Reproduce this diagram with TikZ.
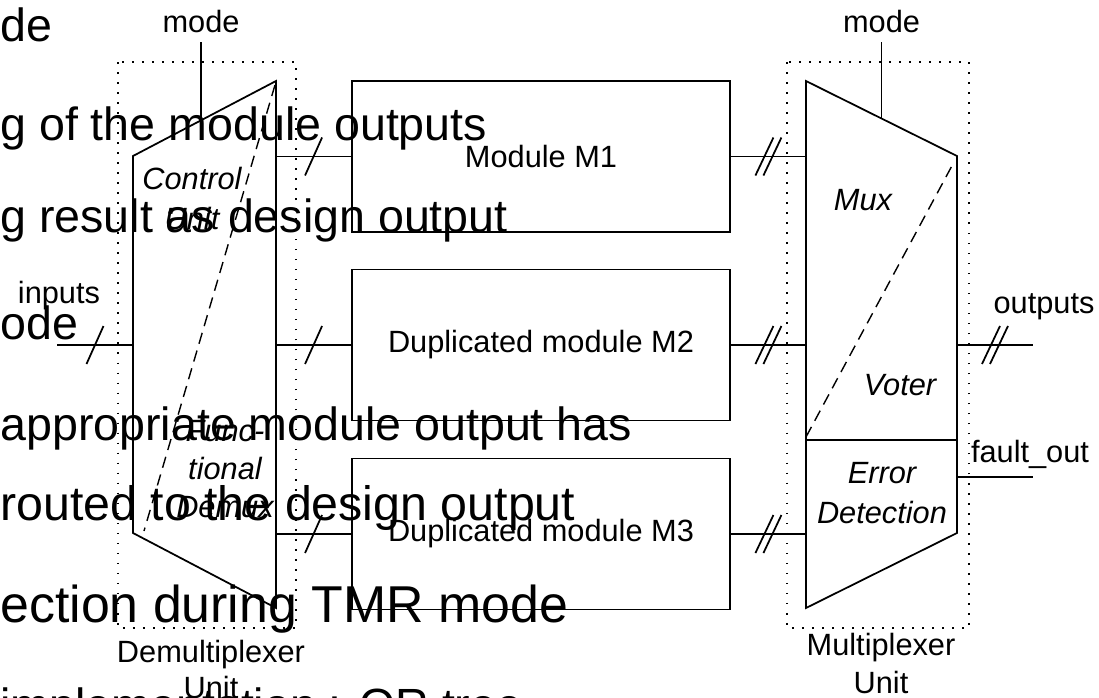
\documentclass[tikz,border=0pt]{standalone}
\usepackage{fontspec}
\setmainfont{Liberation Sans}
\usetikzlibrary{positioning,calc}
\newcommand{\lblfont}{\fontsize{17.5}{20}\selectfont}
\newcommand{\busmark}[1]{\draw[wire] ([shift={(-8.5,19)}]#1) -- ([shift={(8.5,-19)}]#1);}
\newcommand{\busmarks}[1]{\draw[wire] ([shift={(-13,19)}]#1) -- ([shift={(5,-19)}]#1)
    ([shift={(-5,19)}]#1) -- ([shift={(13,-19)}]#1);}

\begin{document}
\begin{tikzpicture}[x=0.2mm, y=-0.2mm,
    wire/.style={line width=1pt},
    unitbox/.style={line width=0.9pt, dash pattern=on 0.9pt off 4.8pt},
    ctrlline/.style={line width=0.8pt, dash pattern=on 6.5pt off 4pt},
    modbox/.style={draw, line width=1pt, minimum width=75.6mm, minimum height=30.2mm, font=\lblfont},
    sig/.style={font=\lblfont, inner sep=0pt, anchor=base, align=center},
    part/.style={sig, font=\lblfont\itshape},
    slide/.style={anchor=base west, inner sep=0pt, font=\fontsize{26.5}{30}\selectfont}]
        \fill[white] (0,0) rectangle (1099,698);
        \useasboundingbox (0,0) rectangle (1099,698);

        % slide text behind the figure
        \node[slide] (s1) at (0,41) {de};
        \node[slide] (s2) at (0,140) {g of the module outputs};
        \node[slide] (s3) at (0,232) {g result as design output};
        \node[slide] (s4) at (0,339) {ode};
        \node[slide] (s5) at (0,440) {appropriate module output has};
        \node[slide, font=\fontsize{27.5}{30}\selectfont] (s6) at (0,520) {routed to the design output};
        \node[slide, font=\fontsize{29.5}{30}\selectfont] (s7) at (0,622) {ection during TMR mode};
        \node[slide] (s8) at (0,721) {implementation : OR tree};

        % modules
        \node[modbox] (m1) at (541,156.5) {Module M1};
        \node[modbox] (m2) at (541,345) {Duplicated module M2};
        \node[modbox] (m3) at (541,534) {Duplicated module M3};

        % demultiplexer unit (left)
        \draw[unitbox] (118,62) rectangle (296,628);
        \coordinate (dtl) at (133,156);
        \coordinate (dtr) at (276,81);
        \coordinate (dbr) at (276,608);
        \coordinate (dbl) at (133,533);
        \draw[wire] (dtl) -- (dtr) -- (dbr) -- (dbl) -- cycle;
        \draw[ctrlline] (275,85) -- (144,531);
        \node[part] (ctrl) at (192,229) {Control\\[2.7pt]Unit};
        \node[part] (func) at (225,517) {Func-\\[1.6pt]tional\\[1.6pt]Demux};
        \node[sig] (dname) at (211,698) {Demultiplexer\\Unit};

        % multiplexer unit (right)
        \draw[unitbox] (787,62) rectangle (969,628);
        \coordinate (mtl) at (806,81);
        \coordinate (mtr) at (957,156);
        \coordinate (mbr) at (957,533);
        \coordinate (mbl) at (806,608);
        \draw[wire] (mtl) -- (mtr) -- (mbr) -- (mbl) -- cycle;
        \draw[wire] (806,440) -- (957,440);
        \draw[ctrlline] (806,437) -- (954,162);
        \node[part] (mux) at (863,210) {Mux};
        \node[part] (vote) at (900,395) {Voter};
        \node[part] (err) at (882,523) {Error\\[2.7pt]Detection};
        \node[sig] (mname) at (881,693) {Multiplexer\\[1.6pt]Unit};

        % mode inputs
        \node[sig, anchor=south, inner ysep=1.8mm] (dmode) at (201,42) {mode};
        \draw[wire] (dmode.south) -- ($(dtl)!0.4755!(dtr)$);
        \node[sig, anchor=south, inner ysep=1.8mm] (mmode) at (881.5,42) {mode};
        \draw[wire] (mmode.south) -- ($(mtl)!0.5!(mtr)$);

        % inputs
        \coordinate (in) at (57,345);
        \node[sig] (inlbl) at (59,303) {inputs};
        \draw[wire] (in) -- coordinate (b0) (in -| dtl);
        \busmark{b0}

        % demux -> modules
        \draw[wire] (m1.west -| dtr) -- coordinate (b1) (m1.west);
        \draw[wire] (m2.west -| dtr) -- coordinate (b2) (m2.west);
        \draw[wire] (m3.west -| dtr) -- coordinate (b3) (m3.west);
        \busmark{b1}
        \busmark{b2}
        \busmark{b3}

        % modules -> mux
        \draw[wire] (m1.east) -- coordinate (c1) (m1.east -| mtl);
        \draw[wire] (m2.east) -- coordinate (c2) (m2.east -| mtl);
        \draw[wire] (m3.east) -- coordinate (c3) (m3.east -| mtl);
        \busmarks{c1}
        \busmarks{c2}
        \busmarks{c3}

        % outputs
        \coordinate (out) at (1033,345);
        \node[sig] (outlbl) at (1044,313) {outputs};
        \draw[wire] (out -| mtr) -- coordinate (c4) (out);
        \busmarks{c4}
        \coordinate (fo) at (1033,477);
        \node[sig] (folbl) at (1030,462) {fault\_out};
        \draw[wire] (fo -| mtr) -- (fo);

    \end{tikzpicture}
\end{document}
